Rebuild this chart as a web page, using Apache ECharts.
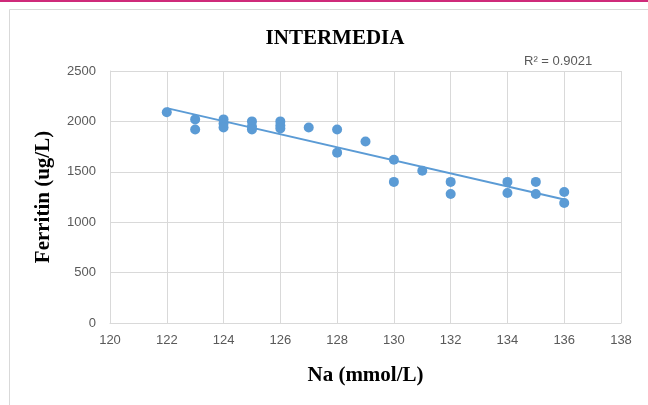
<!DOCTYPE html>
<html>
<head>
<meta charset="utf-8">
<script src="https://cdn.jsdelivr.net/npm/echarts@6/dist/echarts.min.js"></script>
<style>
html, body { margin: 0; padding: 0; background: #fff; }
#chart { width: 648px; height: 405px; }
</style>
</head>
<body>
<div id="chart"></div>
<script>
// Na (mmol/L) vs Ferritin (ug/L)
var naValues = [122, 123, 123, 124, 124, 124, 125, 125, 125, 126, 126, 126, 127, 128, 128, 129, 130, 130, 131, 132, 132, 134, 134, 135, 135, 136, 136];
var ferritinValues = [2090, 2020, 1920, 2020, 1980, 1940, 2000, 1950, 1920, 2000, 1960, 1930, 1940, 1920, 1690, 1800, 1620, 1400, 1510, 1400, 1280, 1400, 1290, 1400, 1280, 1300, 1190];
var xTicks = [120, 138, 2];
var yTicks = [0, 2500, 500];
var rSquaredText = 'R² = 0.9021';

var points = naValues.map(function (x, i) { return [x, ferritinValues[i]]; });

// linear trendline (least squares)
var n = points.length, sx = 0, sy = 0, sxy = 0, sxx = 0;
points.forEach(function (p) { sx += p[0]; sy += p[1]; sxy += p[0] * p[1]; sxx += p[0] * p[0]; });
var slope = (n * sxy - sx * sy) / (n * sxx - sx * sx);
var icpt = (sy - slope * sx) / n;
var xMin = Math.min.apply(null, naValues), xMax = Math.max.apply(null, naValues);
var trend = [[xMin, icpt + slope * xMin], [xMax, icpt + slope * xMax]];

var myChart = echarts.init(document.getElementById('chart'));
myChart.setOption({
	backgroundColor: '#fff',
	animation: false,
	title: {
		text: 'INTERMEDIA',
		left: 330, top: 23, textAlign: 'center',
		textStyle: { fontFamily: 'Liberation Serif', fontWeight: 'bold', fontSize: 21, color: '#000' }
	},
	graphic: [
		{ type: 'rect', shape: { x: 0, y: 0, width: 648, height: 2 }, style: { fill: '#cf2a7a' } },
		{ type: 'rect', shape: { x: 9.5, y: 9.5, width: 700, height: 500 }, style: { fill: 'none', stroke: '#d9d9d9', lineWidth: 1 }, z: -1 },
		{ type: 'text', left: 524, top: 55, style: { text: rSquaredText, font: '13px "Liberation Sans"', fill: '#595959' } }
	],
	grid: { left: 110, right: 27, top: 71, bottom: 82 },
	xAxis: {
		type: 'value', min: xTicks[0], max: xTicks[1], interval: xTicks[2],
		name: 'Na (mmol/L)', nameLocation: 'middle', nameGap: 42,
		nameTextStyle: { fontFamily: 'Liberation Serif', fontWeight: 'bold', fontSize: 21, color: '#000' },
		axisLine: { lineStyle: { color: '#d9d9d9' } },
		axisTick: { show: false },
		axisLabel: { color: '#595959', fontSize: 13, fontFamily: 'Liberation Sans', margin: 11 },
		splitLine: { show: true, lineStyle: { color: '#d9d9d9' } }
	},
	yAxis: {
		type: 'value', min: yTicks[0], max: yTicks[1], interval: yTicks[2],
		name: 'Ferritin (ug/L)', nameLocation: 'middle', nameGap: 56,
		nameTextStyle: { fontFamily: 'Liberation Serif', fontWeight: 'bold', fontSize: 21, color: '#000' },
		axisLine: { show: true, lineStyle: { color: '#d9d9d9' } },
		axisTick: { show: false },
		axisLabel: { color: '#595959', fontSize: 13, fontFamily: 'Liberation Sans', margin: 14, formatter: function (v) { return String(v); } },
		splitLine: { show: true, lineStyle: { color: '#d9d9d9' } }
	},
	series: [{
		type: 'line',
		data: trend,
		symbol: 'none',
		lineStyle: { color: '#5b9bd5', width: 2 },
		z: 3
	}, {
		type: 'scatter',
		data: points,
		symbolSize: 10,
		itemStyle: { color: '#5b9bd5', opacity: 1 },
		z: 4
	}]
});
</script>
</body>
</html>
